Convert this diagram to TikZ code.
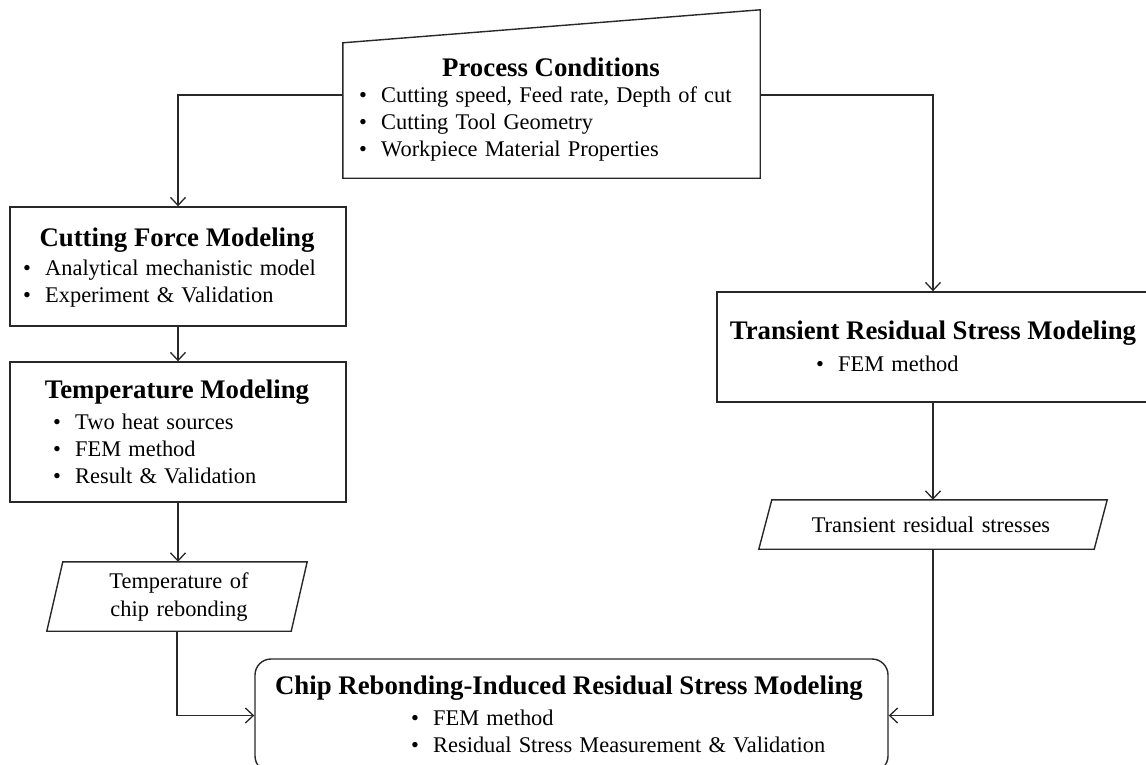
\documentclass[tikz,border=0pt]{standalone}
\usepackage{fontspec}
\setmainfont{Liberation Serif}
\usetikzlibrary{arrows.meta,calc}
\definecolor{lc}{RGB}{40,40,40}
\newcommand\bl{\makebox[22pt][l]{•}}
\newcommand\lstfont{\fontsize{22.4}{27}\selectfont\spaceskip=0.32em\relax}
\newcommand\ctfont{\fontsize{22.4}{28}\selectfont\spaceskip=0.34em\relax}
\tikzset{
  boxshape/.style={draw=lc, line width=1.4pt, rectangle, inner sep=0pt},
  ghost/.style={rectangle, inner sep=0pt},
  boxline/.style={draw=lc, line width=1.4pt},
  ttl/.style={font=\fontsize{26.8}{30}\selectfont\bfseries, inner sep=0pt},
  lst/.style={font=\lstfont, inner sep=0pt, anchor=west, align=left},
  ctext/.style={font=\ctfont, inner sep=0pt, align=center},
  conn/.style={draw=lc, line width=1.3pt},
  arr/.style={conn, -{Straight Barb[length=8pt,width=15pt]}},
}
\begin{document}
\begin{tikzpicture}[x=1pt,y=-1pt]
\useasboundingbox (0,0) rectangle (1146,765);
\fill[white] (0,0) rectangle (1146,765);

% Process conditions (manual input)
\node[ghost, minimum width=417pt, minimum height=135pt] (pc) at (551.5,110.5) {};
\draw[boxline] (pc.south west) -- (pc.north west) -- ([yshift=33pt]pc.north east) -- (pc.south east) -- cycle;
\node[ttl] (pct) at (551,67) {Process Conditions};
\node[lst] (pcl) at (359,124) {\bl Cutting speed, Feed rate, Depth of cut\\ \bl Cutting Tool Geometry\\ \bl Workpiece Material Properties};

% Cutting force
\node[boxshape, minimum width=336pt, minimum height=119pt] (cf) at (178,266.5) {};
\node[ttl] (cft) at (177,240) {Cutting Force Modeling};
\node[lst] (cfl) at (23,283.5) {\bl Analytical mechanistic model\\ \bl Experiment \& Validation};

% Temperature
\node[boxshape, minimum width=336pt, minimum height=140pt] (tm) at (178,432) {};
\node[ttl] (tmt) at (177,392) {Temperature Modeling};
\node[lst] (tml) at (53,449) {\bl Two heat sources\\ \bl FEM method\\ \bl Result \& Validation};

% Temperature of chip rebonding (data)
\node[ghost, minimum width=244pt, minimum height=69pt] (tcr) at (177,596.5) {};
\draw[boxline] ([xshift=8pt]tcr.north west) -- ([xshift=8pt]tcr.north east) -- ([xshift=-8pt]tcr.south east) -- ([xshift=-8pt]tcr.south west) -- cycle;
\node[ctext] (tcrt) at (179,597) {Temperature of\\ chip rebonding};

% Transient residual stress modeling
\node[boxshape, minimum width=432pt, minimum height=110pt] (trm) at (933,347) {};
\node[ttl] (trmt) at (933,333) {Transient Residual Stress Modeling};
\node[lst] (trml) at (816,364) {\bl FEM method};

% Transient residual stresses (data)
\node[ghost, minimum width=335pt, minimum height=49pt] (trs) at (933,524.5) {};
\draw[boxline] ([xshift=6.5pt]trs.north west) -- ([xshift=6.5pt]trs.north east) -- ([xshift=-6.5pt]trs.south east) -- ([xshift=-6.5pt]trs.south west) -- cycle;
\node[ctext] (trst) at (931,525) {Transient residual stresses};

% Chip rebonding-induced residual stress modeling
\node[boxshape, rounded corners=16pt, minimum width=633pt, minimum height=113pt] (cr) at (571.5,715.5) {};
\node[ttl] (crt) at (569,688) {Chip Rebonding-Induced Residual Stress Modeling};
\node[lst] (crl) at (411,731) {\bl FEM method\\ \bl Residual Stress Measurement \& Validation};

% Connectors
\draw[arr] ([yshift=15.5pt]pc.west) -| (cf.north);
\draw[arr] ([yshift=15.5pt]pc.east) -| (trm.north);
\draw[arr] (cf.south) -- (tm.north);
\draw[arr] (tm.south) -- (tm.south |- tcr.north);
\draw[arr] (tcr.south) |- (cr.west);
\draw[arr] (trm.south) -- (trs.north);
\draw[arr] (trs.south) |- (cr.east);
\end{tikzpicture}
\end{document}
